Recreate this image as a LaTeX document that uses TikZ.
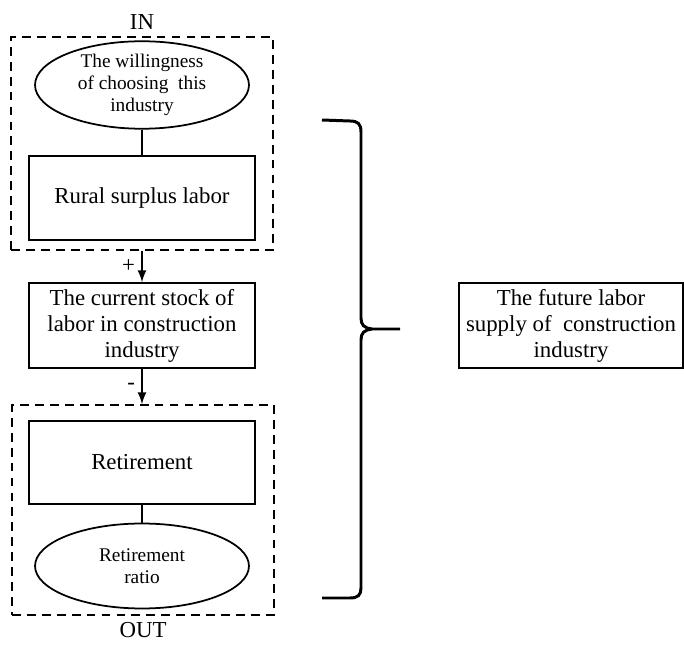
\documentclass[tikz,border=0pt]{standalone}
\usepackage{fontspec}
\setmainfont{Liberation Serif}
\usetikzlibrary{shapes.geometric}
\begin{document}
\begin{tikzpicture}[x=0.02cm, y=-0.02cm, >=latex]
    \tikzstyle{box}=[draw, line width=1pt, minimum width=4.52cm, minimum height=1.68cm, align=center, font=\fontsize{13}{14.8}\selectfont]
    \tikzstyle{oval}=[draw, ellipse, line width=1pt, minimum width=4.28cm, minimum height=1.7cm, inner sep=0pt, align=center, font=\fontsize{11}{12.6}\selectfont]
    \tikzstyle{grp}=[draw, line width=1pt, dash pattern=on 5pt off 3.5pt, minimum width=5.24cm, label distance=1pt]
    \tikzstyle{lbl}=[font=\fontsize{13}{14.8}\selectfont]
    \useasboundingbox (0,0) rectangle (684,645);
    \node[grp, minimum height=4.26cm, label={[lbl]above:IN}] (in) at (142,143.5) {};
    \node[grp, minimum height=4.2cm, label={[lbl]below:OUT}] (out) at (143,510) {};
    \node[oval] (will) at (142,85) {The willingness\\of choosing~ this\\industry};
    \node[box] (rural) at (142,198) {Rural surplus labor};
    \node[box, minimum height=1.7cm] (stock) at (142,325.5) {The current stock of\\labor in construction\\industry};
    \node[box, minimum height=1.66cm] (retire) at (142,462.5) {Retirement};
    \node[oval] (ratio) at (142,566) {Retirement\\ratio};
    \node[box, minimum width=4.48cm, minimum height=1.7cm, line width=0.8pt] (future) at (571,325.5) {The future labor\\supply of~ construction\\industry};
    \draw[line width=1.3pt] (will) -- (rural);
    \draw[line width=1.3pt, ->] (in.south) -- node[left, lbl] {+} (stock.north);
    \draw[line width=1.3pt, ->] (stock.south) -- node[left, lbl] {-} (out.north -| stock.south);
    \draw[line width=1.3pt] (retire) -- (ratio);
    % brace
    \coordinate (tip) at (400,329);
    \draw[line width=1.7pt] (322,120) -- (350,121) .. controls (358,121) and (361,124) .. (361,132) -- (361,318)
        .. controls (361,325) and (364,328) .. (372,329) -- (tip);
    \draw[line width=1.7pt] (372,329) .. controls (364,330) and (361,333) .. (361,340) -- (361,588)
        .. controls (361,595) and (358,598) .. (350,598) -- (322,598);
\end{tikzpicture}
\end{document}
